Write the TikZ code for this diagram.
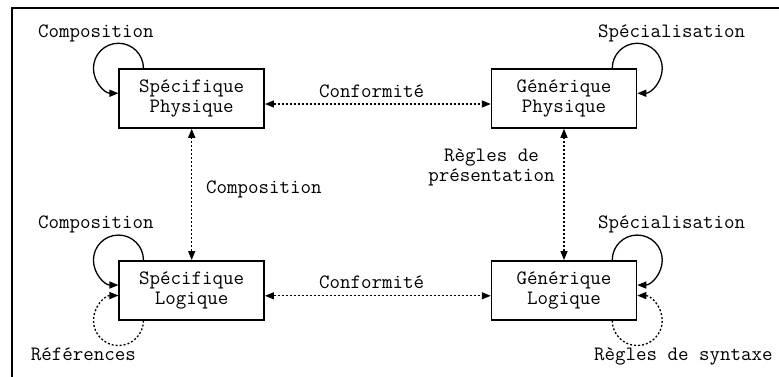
\documentclass[tikz,border=0pt]{standalone}
\usepackage{fontspec}
\usetikzlibrary{arrows.meta,calc}
\begin{document}
\begin{tikzpicture}[x=1pt,y=-1pt,
  every node/.style={font=\ttfamily\fontsize{20.4}{20}\selectfont},
  box/.style={draw,line width=1.5pt,minimum width=145pt,minimum height=59pt,inner sep=0pt,align=center},
  lbl/.style={anchor=base,inner sep=0pt},
  tip/.style={-{Triangle[length=9pt,width=7pt]}},
  both/.style={{Triangle[length=9pt,width=7pt]}-{Triangle[length=9pt,width=7pt]}},
  dots/.style={dash pattern=on 2pt off 2pt},
  conn/.style={line width=1.3pt}]
\useasboundingbox (0,0) rectangle (779,376);
\clip (0,0) rectangle (779,376);
\draw[line width=2pt] (12,390) -- (12,8) -- (790,8);

\node[box] (SP) at (191.7,98.5) {Spécifique\\Physique};
\node[box] (GP) at (564,98.5) {Générique\\Physique};
\node[box] (SL) at (191.7,290.3) {Spécifique\\Logique};
\node[box] (GL) at (564,290.3) {Générique\\Logique};

% horizontal conformity arrows
\draw[conn,dots,both] ([yshift=-5.5pt]SP.east) -- ([yshift=-5.5pt]GP.west);
\draw[conn,dots,both] ([yshift=-5.5pt]SL.east) -- ([yshift=-5.5pt]GL.west);
% vertical arrows
\draw[conn,dots,both] (SP.south) -- (SL.north);
\draw[conn,dots,both] (GP.south) -- (GL.north);

% self loops
\draw[conn,tip] ($(SP.north west)+(25,0)$) arc[start angle=0,end angle=270,radius=25pt];
\draw[conn,tip] ($(GP.north east)+(-25,0)$) arc[start angle=180,end angle=-90,radius=25pt];
\draw[conn,tip] ($(SL.north west)+(25,0)$) arc[start angle=0,end angle=270,radius=25pt];
\draw[conn,tip] ($(GL.north east)+(-25,0)$) arc[start angle=180,end angle=-90,radius=25pt];
\draw[conn,dots,tip] ($(SL.south west)+(25,0)$) arc[start angle=0,end angle=-270,radius=25pt];
\draw[conn,dots,tip] ($(GL.south east)+(-25,0)$) arc[start angle=180,end angle=450,radius=25pt];

% labels
\node[lbl] (l1) at (95.8,37) {Composition};
\node[lbl] (l2) at (671.7,37) {Spécialisation};
\node[lbl] (l3) at (371.7,97) {Conformité};
\node[lbl] (l4) at (371.7,288.7) {Conformité};
\node[lbl] (l5) at (263.8,193.3) {Composition};
\node[lbl,align=center] (l6) at (491.5,181.5) {Règles de\\présentation};
\node[lbl] (l7) at (95.8,228.7) {Composition};
\node[lbl] (l8) at (671.7,228.7) {Spécialisation};
\node[lbl] (l9) at (83.3,360) {Références};
\node[lbl] (l10) at (683.3,360) {Règles de syntaxe};
\end{tikzpicture}
\end{document}
